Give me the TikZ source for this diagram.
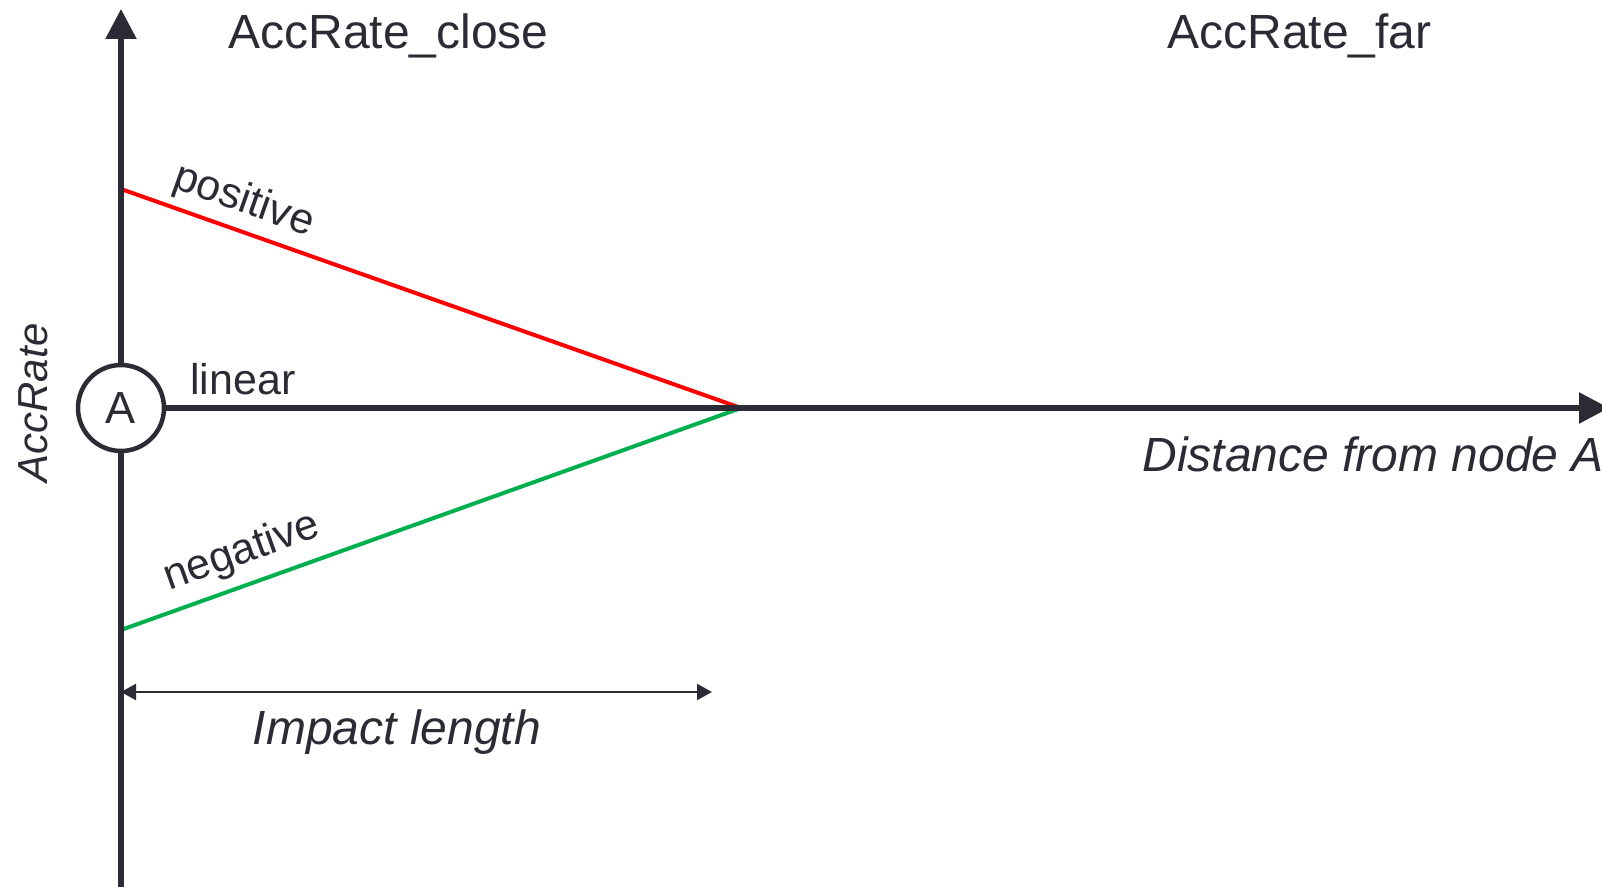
\documentclass[tikz,border=0pt]{standalone}
\usepackage{fontspec}
\setmainfont{Liberation Sans}
\usetikzlibrary{arrows.meta}
\definecolor{ink}{RGB}{43,43,53}
\definecolor{posred}{RGB}{255,0,0}
\definecolor{neggreen}{RGB}{0,176,80}
\tikzset{
  axisline/.style={draw=ink, line width=2.75pt},
  bigtip/.style={-{Triangle[length=15pt,width=15pt]}},
  slopeline/.style={line width=2pt},
  dimline/.style={draw=ink, line width=1.2pt,
    {Triangle[length=7.5pt,width=8pt]}-{Triangle[length=7.5pt,width=8pt]}},
  headlabel/.style={text=ink, font=\fontsize{24}{28}\selectfont, inner sep=0pt},
  curvelabel/.style={text=ink, font=\fontsize{21.5}{25}\selectfont, inner sep=0pt},
  axislabel/.style={text=ink, font=\fontsize{24}{28}\selectfont\itshape, inner sep=0pt},
  nodecircle/.style={circle, draw=ink, line width=2.25pt, minimum size=43pt,
    inner sep=0pt, text=ink, font=\fontsize{22.5}{26}\selectfont},
}
\begin{document}
\begin{tikzpicture}[x=0.5pt, y=-0.5pt]
  \useasboundingbox (0,0) rectangle (1602,887);

  % reference points
  \coordinate (ytop) at (121,9);
  \coordinate (ybot) at (121,900);
  \coordinate (xend) at (1609,408);
  \coordinate (pstart) at (121,189);
  \coordinate (nstart) at (121,630);
  \coordinate (meet) at (741,408);
  \coordinate (dimL) at (121,692);
  \coordinate (dimR) at (712,692);

  % rate curves
  \draw[slopeline, posred] (pstart) -- (meet);
  \draw[slopeline, neggreen] (nstart) -- (meet);

  % node A and axes
  \node[nodecircle] (A) at (121,408) {A};
  \draw[axisline, bigtip] (A.north) -- (ytop);
  \draw[axisline] (A.south) -- (ybot);
  \draw[axisline, bigtip] (A.east) -- (xend);

  % impact length dimension
  \draw[dimline] (dimL) -- (dimR);

  % labels
  \node[headlabel, anchor=base west] (close) at (228,49) {AccRate\_close};
  \node[headlabel, anchor=base west] (far) at (1167,49) {AccRate\_far};
  \node[curvelabel, anchor=base west] (lin) at (190,395) {linear};
  \node[curvelabel, anchor=base, rotate=-19.45] (pos) at (240,212) {positive};
  \node[curvelabel, anchor=base, rotate=19.7] (neg) at (246,563) {negative};
  \node[axislabel, anchor=base west] (dist) at (1142,472) {Distance from node A};
  \node[axislabel, anchor=base] (imp) at (397,744) {Impact length};
  \node[axislabel, font=\fontsize{21}{25}\selectfont\itshape, anchor=base, rotate=90] (acc) at (47,403) {AccRate};
\end{tikzpicture}
\end{document}
